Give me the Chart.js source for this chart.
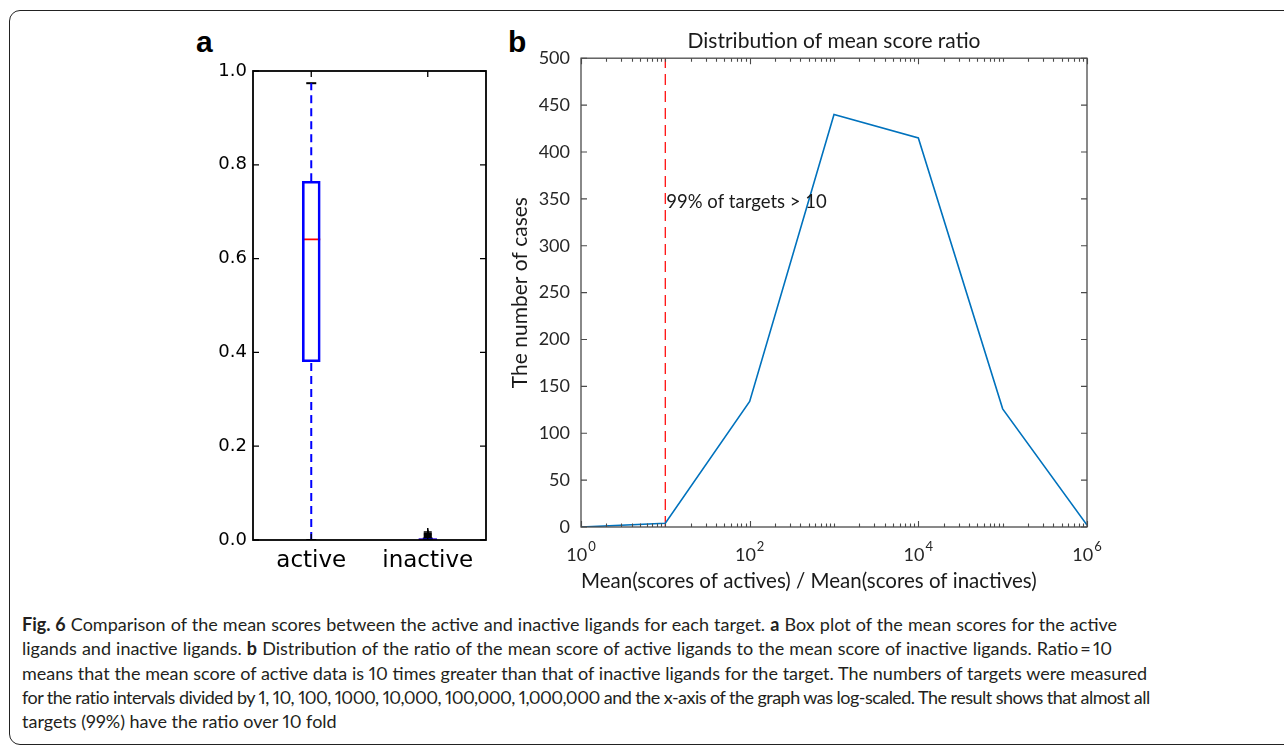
<!DOCTYPE html>
<html>
<head>
<meta charset="utf-8">
<script src="https://cdn.jsdelivr.net/npm/chart.js@4.4.1/dist/chart.umd.min.js"></script>
<style>
  html, body { margin:0; padding:0; background:#fff; }
  body { width:1284px; height:747px; position:relative; overflow:hidden; }
  #frame { position:absolute; left:9px; top:10px; width:1320px; height:735px; border:1.5px solid #222; border-radius:11px; box-sizing:border-box; }
  canvas { position:absolute; }
  #boxChart { left:190px; top:30px; }
  #ratioChart { left:500px; top:20px; }
  .letter { position:absolute; font-family:"Liberation Sans", Arial, sans-serif; font-weight:bold; font-size:30px; line-height:30px; color:#000; }
  .cap { position:absolute; left:22px; height:24px; line-height:24px; white-space:nowrap; font-family:Lato, "Open Sans", sans-serif; font-size:18px; color:#231f20; font-variant-numeric:proportional-nums; }
  .cap span.t { display:inline-block; white-space:nowrap; }
  .cap b { font-weight:bold; }
</style>
</head>
<body>
<div id="frame"></div>
<div class="letter" style="left:196px; top:27px;">a</div>
<div class="letter" style="left:508px; top:27px;">b</div>
<canvas id="boxChart" width="310" height="560"></canvas>
<canvas id="ratioChart" width="609" height="580"></canvas>

<div class="cap" style="top:612px;"><span class="t"><b>Fig. 6</b> Comparison of the mean scores between the active and inactive ligands for each target. <b>a</b> Box plot of the mean scores for the active</span></div>
<div class="cap" style="top:636px;"><span class="t">ligands and inactive ligands. <b>b</b> Distribution of the ratio of the mean score of active ligands to the mean score of inactive ligands. Ratio&#8201;=&#8201;10</span></div>
<div class="cap" style="top:661px;"><span class="t">means that the mean score of active data is 10 times greater than that of inactive ligands for the target. The numbers of targets were measured</span></div>
<div class="cap" style="top:685px;"><span class="t">for the ratio intervals divided by 1, 10, 100, 1000, 10,000, 100,000, 1,000,000 and the x-axis of the graph was log-scaled. The result shows that almost all</span></div>
<div class="cap" style="top:709px;"><span class="t">targets (99%) have the ratio over 10 fold</span></div>

<script>
// ---------- Panel a: box plot data ----------
const boxCategories = ['active', 'inactive'];
const boxQ1 = [0.380, 0.000];
const boxQ3 = [0.765, 0.003];
const boxMedian = [0.641, 0.001];
const whiskerLow = [0.000, 0.000];
const whiskerHigh = [0.974, 0.003];
const inactiveOutliers = [0.004, 0.006, 0.008, 0.010, 0.012, 0.014, 0.017];
const boxYTicks = [0.0, 0.2, 0.4, 0.6, 0.8, 1.0];

// ---------- Panel b: ratio distribution data ----------
const ratioBins = [1, 10, 100, 1000, 10000, 100000, 1000000];
const caseCounts = [0, 4, 134, 440, 415, 126, 2];
const thresholdRatio = 10;
const thresholdLabel = '99% of targets > 10';
const thresholdLabelY = 347;
const countTicks = [0, 50, 100, 150, 200, 250, 300, 350, 400, 450, 500];
const ratioTickValues = [1, 100, 10000, 1000000];
const ratioTickBase = '10';
const ratioTickExponents = ['0', '2', '4', '6'];

// ---------- Panel a chart ----------
const whiskerSets = [];
boxCategories.forEach((c, i) => {
  whiskerSets.push({ type:'line', data:[{x:c, y:boxQ3[i]}, {x:c, y:whiskerHigh[i]}],
    borderColor:'#0000ff', borderWidth:2, borderDash:[8,5], pointRadius:0 });
  whiskerSets.push({ type:'line', data:[{x:c, y:whiskerLow[i]}, {x:c, y:boxQ1[i]}],
    borderColor:'#0000ff', borderWidth:2, borderDash:[8,5], pointRadius:0 });
});

const frameA = {
  id:'frameA',
  afterDatasetsDraw(chart) {
    const {ctx, chartArea:a, scales} = chart;
    ctx.save();
    ctx.strokeStyle = '#000';
    ctx.lineWidth = 1.3;
    ctx.beginPath();
    boxCategories.forEach((c, i) => {
      const px = scales.x.getPixelForValue(i);
      ctx.moveTo(px, a.bottom); ctx.lineTo(px, a.bottom - 6);
      ctx.moveTo(px, a.top); ctx.lineTo(px, a.top + 6);
    });
    boxYTicks.forEach(v => {
      const py = scales.y.getPixelForValue(v);
      ctx.moveTo(a.left, py); ctx.lineTo(a.left + 6, py);
      ctx.moveTo(a.right, py); ctx.lineTo(a.right - 6, py);
    });
    ctx.stroke();
    ctx.lineWidth = 1.8;
    ctx.strokeRect(a.left, a.top, a.right - a.left, a.bottom - a.top);
    ctx.restore();
  }
};

new Chart(document.getElementById('boxChart'), {
  type:'bar',
  data:{
    labels: boxCategories,
    datasets:[
      { type:'bar', data: boxCategories.map((c, i) => [boxQ1[i], boxQ3[i]]),
        backgroundColor:'rgba(255,255,255,0)', borderColor:'#0000ff', borderWidth:2,
        borderSkipped:false, barThickness:18 },
      ...whiskerSets,
      { type:'line', showLine:false,
        data: boxCategories.flatMap((c, i) => [{x:c, y:whiskerHigh[i]}, {x:c, y:whiskerLow[i]}]),
        pointStyle:'line', pointRadius:5, pointBorderColor:'#000', pointBorderWidth:2 },
      { type:'line', showLine:false,
        data: boxCategories.map((c, i) => ({x:c, y:boxMedian[i]})),
        pointStyle:'line', pointRadius:9, pointBorderColor:'#ff0000', pointBorderWidth:1.8 },
      { type:'line', showLine:false,
        data: inactiveOutliers.map(y => ({x:'inactive', y})),
        pointStyle:'cross', pointRadius:4, pointBorderColor:'#000', pointBorderWidth:1.5 }
    ]
  },
  options:{
    responsive:false, animation:false, events:[],
    layout:{ padding:{ left:0, right:14, top:41, bottom:0 } },
    plugins:{ legend:{display:false}, tooltip:{enabled:false} },
    scales:{
      x:{ type:'category', offset:true,
        grid:{display:false, drawTicks:false}, border:{display:false},
        ticks:{ font:{family:'DejaVu Sans', size:23}, color:'#000', padding:7 },
        afterFit:(s) => { s.height = 50; } },
      y:{ min:0, max:1,
        grid:{display:false, drawTicks:false}, border:{display:false},
        ticks:{ font:{family:'DejaVu Sans', size:18}, color:'#000', padding:6,
                callback:(v) => Number(v).toFixed(1) },
        afterBuildTicks:(s) => { s.ticks = boxYTicks.map(v => ({value:v})); },
        afterFit:(s) => { s.width = 63; } }
    }
  },
  plugins:[frameA]
});

// ---------- Panel b chart ----------
const minorRatioTicks = [];
for (let d = 0; d < 6; d++) {
  for (let m = 1; m <= 9; m++) {
    const v = m * Math.pow(10, d);
    if (!ratioTickValues.includes(v)) minorRatioTicks.push(v);
  }
}

const fontB = 'Lato, "Open Sans", sans-serif';
const frameB = {
  id:'frameB',
  afterDatasetsDraw(chart) {
    const {ctx, chartArea:a, scales} = chart;
    ctx.save();
    ctx.strokeStyle = '#4a4a4a';
    ctx.lineWidth = 1.1;
    ctx.beginPath();
    const tick = (v, L) => {
      const px = Math.round(scales.x.getPixelForValue(v)) + 0.5;
      ctx.moveTo(px, a.bottom); ctx.lineTo(px, a.bottom - L);
      ctx.moveTo(px, a.top); ctx.lineTo(px, a.top + L);
    };
    ratioTickValues.forEach(v => tick(v, 6));
    minorRatioTicks.forEach(v => tick(v, 3.5));
    countTicks.forEach(v => {
      const py = scales.y.getPixelForValue(v);
      ctx.moveTo(a.left, py); ctx.lineTo(a.left + 6, py);
      ctx.moveTo(a.right, py); ctx.lineTo(a.right - 6, py);
    });
    ctx.stroke();
    ctx.lineWidth = 1.3;
    ctx.strokeRect(a.left, a.top, a.right - a.left, a.bottom - a.top);

    // x tick labels: 10 with superscript exponent
    ctx.fillStyle = '#262626';
    ctx.textBaseline = 'alphabetic';
    ratioTickValues.forEach((v, i) => {
      const px = scales.x.getPixelForValue(v);
      ctx.font = '18px ' + fontB;
      const wb = ctx.measureText(ratioTickBase).width;
      ctx.font = '13px ' + fontB;
      const we = ctx.measureText(ratioTickExponents[i]).width;
      const x0 = px - (wb + 1 + we) / 2;
      ctx.textAlign = 'left';
      ctx.font = '18px ' + fontB;
      ctx.fillText(ratioTickBase, x0, a.bottom + 34);
      ctx.font = '13px ' + fontB;
      ctx.fillText(ratioTickExponents[i], x0 + wb + 1, a.bottom + 24);
    });

    // threshold annotation text
    ctx.font = '18.5px ' + fontB;
    ctx.fillStyle = '#1a1a1a';
    ctx.textAlign = 'left';
    ctx.textBaseline = 'middle';
    ctx.fillText(thresholdLabel, scales.x.getPixelForValue(thresholdRatio) + 1, scales.y.getPixelForValue(thresholdLabelY));
    ctx.restore();
  }
};

new Chart(document.getElementById('ratioChart'), {
  type:'line',
  data:{
    datasets:[
      { data: ratioBins.map((x, i) => ({x, y:caseCounts[i]})),
        borderColor:'#0072bd', borderWidth:1.6, pointRadius:0, tension:0 },
      { data:[{x:thresholdRatio, y:countTicks[0]}, {x:thresholdRatio, y:countTicks[countTicks.length - 1]}],
        borderColor:'#ff1a1a', borderWidth:1.4, borderDash:[11,6], pointRadius:0 }
    ]
  },
  options:{
    responsive:false, animation:false, events:[],
    layout:{ padding:{ left:0, right:22, top:0, bottom:0 } },
    plugins:{
      legend:{display:false}, tooltip:{enabled:false},
      title:{ display:true, fullSize:false, text:'Distribution of mean score ratio',
        font:{family:fontB, size:21, weight:'normal'}, color:'#1a1a1a',
        padding:{top:9, bottom:4} }
    },
    scales:{
      x:{ type:'logarithmic', min:1, max:1000000,
        grid:{display:false, drawTicks:false}, border:{display:false},
        ticks:{ display:false, autoSkip:false },
        afterBuildTicks:(s) => { s.ticks = ratioTickValues.map(v => ({value:v})); },
        afterFit:(s) => { s.height = 73; },
        title:{ display:true, text:'Mean(scores of actives) / Mean(scores of inactives)', align:'start',
                font:{family:fontB, size:20.5}, color:'#1a1a1a', padding:{top:0, bottom:6} } },
      y:{ min:0, max:500,
        grid:{display:false, drawTicks:false}, border:{display:false},
        ticks:{ font:{family:fontB, size:18}, color:'#262626', padding:11 },
        afterBuildTicks:(s) => { s.ticks = countTicks.map(v => ({value:v})); },
        afterFit:(s) => { s.width = 81; },
        title:{ display:true, text:'The number of cases',
                font:{family:fontB, size:21}, color:'#1a1a1a', padding:{top:8, bottom:0} } }
    }
  },
  plugins:[frameB]
});

// ---------- Caption justification ----------
(function () {
  const spans = Array.from(document.querySelectorAll('.cap span.t'));
  const targets = [1095, 1090, 1125, 1128];
  targets.forEach((t, i) => {
    const s = spans[i];
    const w = s.getBoundingClientRect().width;
    const txt = s.textContent;
    const n = (txt.match(/ /g) || []).length;
    const extra = t - w;
    if (extra >= 0) {
      if (n > 0) s.style.wordSpacing = (extra / n).toFixed(3) + 'px';
    } else {
      s.style.letterSpacing = (extra / txt.length).toFixed(3) + 'px';
    }
  });
})();
</script>
</body>
</html>
